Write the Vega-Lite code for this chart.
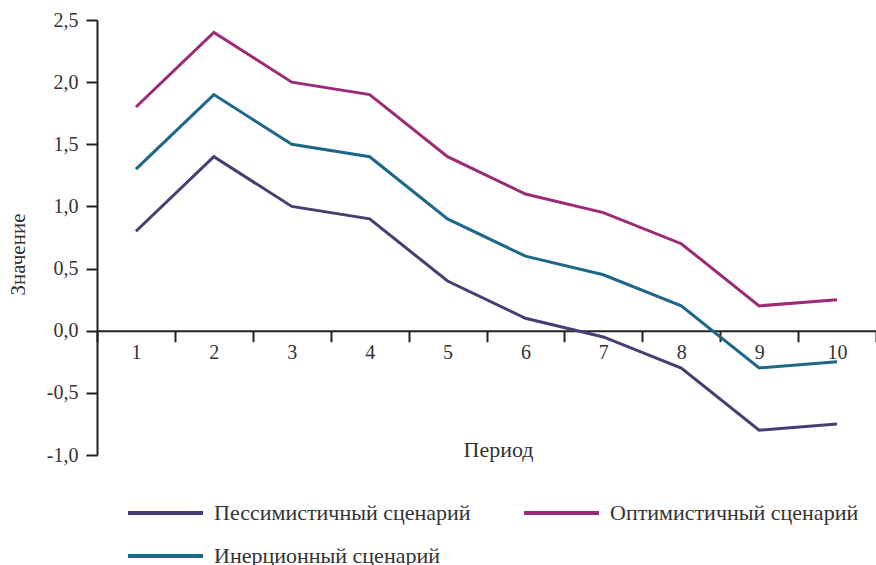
{
  "$schema": "https://vega.github.io/schema/vega-lite/v6.json",
  "width": 779,
  "height": 435,
  "autosize": {"type": "none"},
  "padding": {"left": 97, "top": 20, "right": 0, "bottom": 110},
  "background": "white",
  "config": {
    "locale": {"number": {"decimal": ",", "thousands": " ", "grouping": [3], "currency": ["", ""], "minus": "-"}},
    "view": {"stroke": null},
    "font": "Liberation Serif",
    "axis": {"labelFont": "Liberation Serif", "titleFont": "Liberation Serif"},
    "legend": {"labelFont": "Liberation Serif", "titleFont": "Liberation Serif"}
  },
  "data": {
    "values": [
      {"period": 1, "scenario": "Пессимистичный сценарий", "value": 0.8},
      {"period": 2, "scenario": "Пессимистичный сценарий", "value": 1.4},
      {"period": 3, "scenario": "Пессимистичный сценарий", "value": 1.0},
      {"period": 4, "scenario": "Пессимистичный сценарий", "value": 0.9},
      {"period": 5, "scenario": "Пессимистичный сценарий", "value": 0.4},
      {"period": 6, "scenario": "Пессимистичный сценарий", "value": 0.1},
      {"period": 7, "scenario": "Пессимистичный сценарий", "value": -0.05},
      {"period": 8, "scenario": "Пессимистичный сценарий", "value": -0.3},
      {"period": 9, "scenario": "Пессимистичный сценарий", "value": -0.8},
      {"period": 10, "scenario": "Пессимистичный сценарий", "value": -0.75},
      {"period": 1, "scenario": "Оптимистичный сценарий", "value": 1.8},
      {"period": 2, "scenario": "Оптимистичный сценарий", "value": 2.4},
      {"period": 3, "scenario": "Оптимистичный сценарий", "value": 2.0},
      {"period": 4, "scenario": "Оптимистичный сценарий", "value": 1.9},
      {"period": 5, "scenario": "Оптимистичный сценарий", "value": 1.4},
      {"period": 6, "scenario": "Оптимистичный сценарий", "value": 1.1},
      {"period": 7, "scenario": "Оптимистичный сценарий", "value": 0.95},
      {"period": 8, "scenario": "Оптимистичный сценарий", "value": 0.7},
      {"period": 9, "scenario": "Оптимистичный сценарий", "value": 0.2},
      {"period": 10, "scenario": "Оптимистичный сценарий", "value": 0.25},
      {"period": 1, "scenario": "Инерционный сценарий", "value": 1.3},
      {"period": 2, "scenario": "Инерционный сценарий", "value": 1.9},
      {"period": 3, "scenario": "Инерционный сценарий", "value": 1.5},
      {"period": 4, "scenario": "Инерционный сценарий", "value": 1.4},
      {"period": 5, "scenario": "Инерционный сценарий", "value": 0.9},
      {"period": 6, "scenario": "Инерционный сценарий", "value": 0.6},
      {"period": 7, "scenario": "Инерционный сценарий", "value": 0.45},
      {"period": 8, "scenario": "Инерционный сценарий", "value": 0.2},
      {"period": 9, "scenario": "Инерционный сценарий", "value": -0.3},
      {"period": 10, "scenario": "Инерционный сценарий", "value": -0.25}
    ]
  },
  "mark": {"type": "line", "strokeWidth": 3},
  "encoding": {
    "x": {
      "field": "period",
      "type": "ordinal",
      "sort": "ascending",
      "bandPosition": 0.5,
      "scale": {"type": "band", "paddingInner": 0, "paddingOuter": 0},
      "axis": {
        "orient": "bottom",
        "offset": -124.29,
        "title": "Период",
        "titleFont": "Liberation Serif",
        "titleFontSize": 22,
        "titleFontWeight": "normal",
        "titleColor": "#333",
        "titleX": 401,
        "titleY": 119,
        "titleAlign": "center",
        "titleBaseline": "middle",
        "tickBand": "extent",
        "tickSize": 11,
        "tickWidth": 2,
        "tickColor": "#222",
        "domainColor": "#222",
        "domainWidth": 2,
        "labelFont": "Liberation Serif",
        "labelFontSize": 20,
        "labelPadding": 1,
        "labelColor": "#333",
        "labelAngle": 0,
        "grid": false
      }
    },
    "y": {
      "field": "value",
      "type": "quantitative",
      "scale": {"domain": [-1, 2.5], "nice": false, "zero": false},
      "axis": {
        "values": [-1, -0.5, 0, 0.5, 1, 1.5, 2, 2.5],
        "format": ".1f",
        "title": "Значение",
        "titleFont": "Liberation Serif",
        "titleFontSize": 21,
        "titleFontWeight": "normal",
        "titleColor": "#333",
        "titleAngle": -90,
        "titleX": -79,
        "titleY": 234,
        "titleAlign": "center",
        "titleBaseline": "middle",
        "tickSize": 11,
        "tickWidth": 2,
        "tickColor": "#222",
        "domainColor": "#222",
        "domainWidth": 2,
        "labelFont": "Liberation Serif",
        "labelFontSize": 20,
        "labelPadding": 8,
        "labelColor": "#333",
        "grid": false
      }
    },
    "color": {
      "field": "scenario",
      "type": "nominal",
      "scale": {
        "domain": ["Пессимистичный сценарий", "Оптимистичный сценарий", "Инерционный сценарий"],
        "range": ["#4b3c72", "#9c2a76", "#1d6789"]
      },
      "legend": {
        "orient": "none",
        "legendX": 29,
        "legendY": 476,
        "columns": 2,
        "direction": "horizontal",
        "title": null,
        "symbolType": "M-1,0H4",
        "symbolSize": 900,
        "symbolStrokeWidth": 4,
        "labelFont": "Liberation Serif",
        "labelFontSize": 22,
        "labelColor": "#333",
        "labelOffset": 54,
        "columnPadding": 45,
        "rowPadding": 15,
        "labelLimit": 400
      }
    }
  }
}
